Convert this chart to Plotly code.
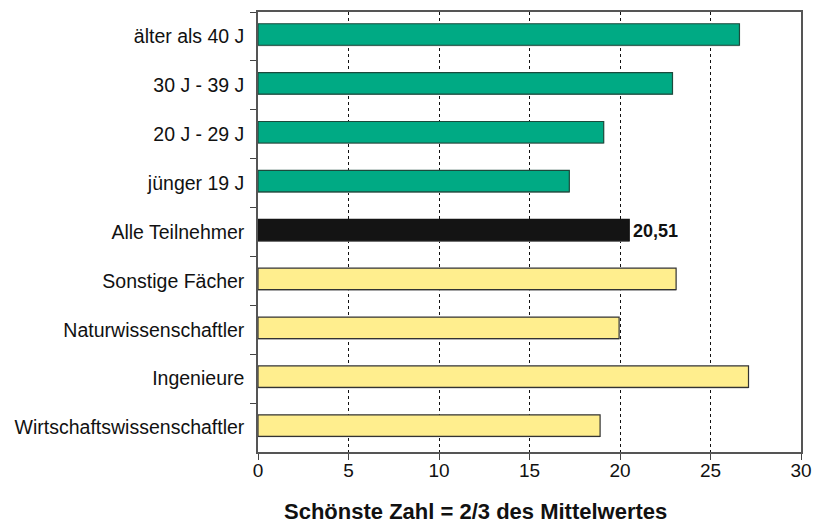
import plotly.graph_objects as go

categories = ["älter als 40 J", "30 J - 39 J", "20 J - 29 J", "jünger 19 J",
              "Alle Teilnehmer", "Sonstige Fächer", "Naturwissenschaftler",
              "Ingenieure", "Wirtschaftswissenschaftler"]
values = [26.6, 22.9, 19.1, 17.2, 20.51, 23.1, 19.95, 27.1, 18.9]
groups = ["age", "age", "age", "age", "all", "field", "field", "field", "field"]
x_ticks = [0, 5, 10, 15, 20, 25, 30]
x_title = "Schönste Zahl = 2/3 des Mittelwertes"
highlight_label = "20,51"

fill = {"age": "#00AA84", "all": "#141414", "field": "#FFEE8E"}
edge = {"age": "#1C4A3C", "all": "#141414", "field": "#333333"}
FONT = "Liberation Sans, Arial"

fig = go.Figure()
# soft shadow
fig.add_trace(go.Bar(
    y=categories, x=values, orientation="h",
    marker=dict(color="#BBBBBB", line=dict(width=0)),
    hoverinfo="skip", showlegend=False, offset=-0.24, width=0.44,
))
fig.add_trace(go.Bar(
    y=categories, x=values, orientation="h",
    marker=dict(color=[fill[g] for g in groups],
                line=dict(color=[edge[g] for g in groups], width=1.2)),
    showlegend=False, offset=-0.26, width=0.44,
))

idx = categories.index("Alle Teilnehmer")
fig.add_annotation(x=values[idx], y=categories[idx], text="<b>" + highlight_label + "</b>",
                   showarrow=False, xanchor="left", xshift=2, yshift=1,
                   font=dict(family=FONT, size=18, color="#111111"))

fig.add_annotation(x=0.401, y=-0.136, xref="paper", yref="paper",
                   text="<b>" + x_title + "</b>", showarrow=False,
                   xanchor="center", yanchor="middle",
                   font=dict(family=FONT, size=22, color="#111111"))

fig.update_layout(
    width=828, height=525,
    margin=dict(l=258, r=27, t=10, b=73),
    paper_bgcolor="white", plot_bgcolor="white",
    barmode="overlay",
    font=dict(family=FONT, size=19, color="#111111"),
)
fig.update_xaxes(
    range=[0, 30], tickvals=x_ticks, ticks="outside", ticklen=6, tickcolor="#444",
    showgrid=True, gridcolor="#111111", griddash="dot", gridwidth=1.2,
    showline=True, linecolor="#555555", linewidth=1.5, mirror=True,
    zeroline=False, tickfont=dict(size=19), ticklabelstandoff=-6,
)
fig.update_yaxes(
    categoryorder="array", categoryarray=categories, autorange="reversed",
    ticks="outside", ticklen=6, tickcolor="#444", tickson="boundaries",
    showline=True, linecolor="#555555", linewidth=1.5, mirror=True,
    showgrid=False, tickfont=dict(size=19.5), ticklabelstandoff=8,
)

fig.write_html("out.html", config={"displayModeBar": False},
               post_script="document.body.style.margin='0';document.body.style.overflow='hidden';")
